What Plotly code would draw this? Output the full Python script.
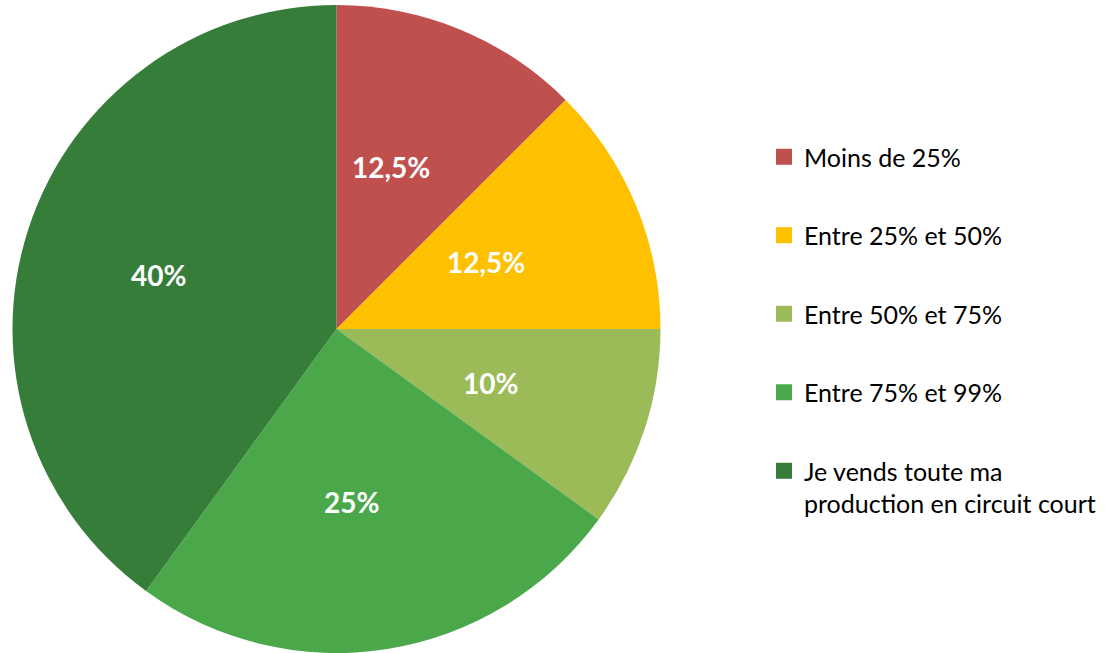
import math
import plotly.graph_objects as go

# Share of production sold through short supply chains
categories = [
    "Moins de 25%",
    "Entre 25% et 50%",
    "Entre 50% et 75%",
    "Entre 75% et 99%",
    "Je vends toute ma<br>production en circuit court",
]
values = [12.5, 12.5, 10, 25, 40]
colors = ["#C0504D", "#FFC000", "#9BBB59", "#4AA84B", "#367D3A"]

# French-style percentage labels (decimal comma)
labels_text = [f"{v:g}%".replace(".", ",") for v in values]

W, H = 1110, 653
dom_x = [12 / W, 661 / W]
dom_y = [0, 648 / H]

fig = go.Figure()

fig.add_trace(go.Pie(
    labels=categories,
    values=values,
    textinfo="none",
    marker=dict(colors=colors, line=dict(width=0)),
    sort=False,
    direction="clockwise",
    rotation=0,
    showlegend=False,
    domain=dict(x=dom_x, y=dom_y),
    hoverinfo="label+percent",
))

# Slice labels placed at mid-angle, roughly halfway out along the radius
cx = (dom_x[0] + dom_x[1]) / 2 * W
cy = H - (dom_y[0] + dom_y[1]) / 2 * H
radius = min((dom_x[1] - dom_x[0]) * W, (dom_y[1] - dom_y[0]) * H) / 2
label_shift = -12  # small leftward nudge of the label block
total = sum(values)
cum = 0.0
for v, txt in zip(values, labels_text):
    mid = (cum + v / 2) / total * 2 * math.pi
    cum += v
    r = 0.54 * radius
    px = cx + r * math.sin(mid) + label_shift
    py = cy - r * math.cos(mid)
    fig.add_annotation(
        x=px / W, y=1 - py / H, xref="paper", yref="paper",
        text=txt, showarrow=False,
        font=dict(family="Lato", size=28, color="white", weight="bold"),
        xanchor="center", yanchor="middle",
    )

# Legend entries: one square marker per category
for name, col in zip(categories, colors):
    fig.add_trace(go.Scatter(
        x=[None], y=[None],
        mode="markers",
        marker=dict(symbol="square", size=16, color=col),
        name=name,
        legendgroup=name,
        showlegend=True,
    ))

fig.update_layout(
    width=W,
    height=H,
    margin=dict(l=0, r=0, t=0, b=0),
    paper_bgcolor="white",
    plot_bgcolor="white",
    xaxis=dict(visible=False),
    yaxis=dict(visible=False),
    legend=dict(
        x=764 / W,
        y=1 - 134 / H,
        xanchor="left",
        yanchor="top",
        font=dict(family="Lato", size=25, color="#000000"),
        tracegroupgap=43,
        valign="top",
        bgcolor="rgba(0,0,0,0)",
    ),
)

fig.write_html("out.html")
